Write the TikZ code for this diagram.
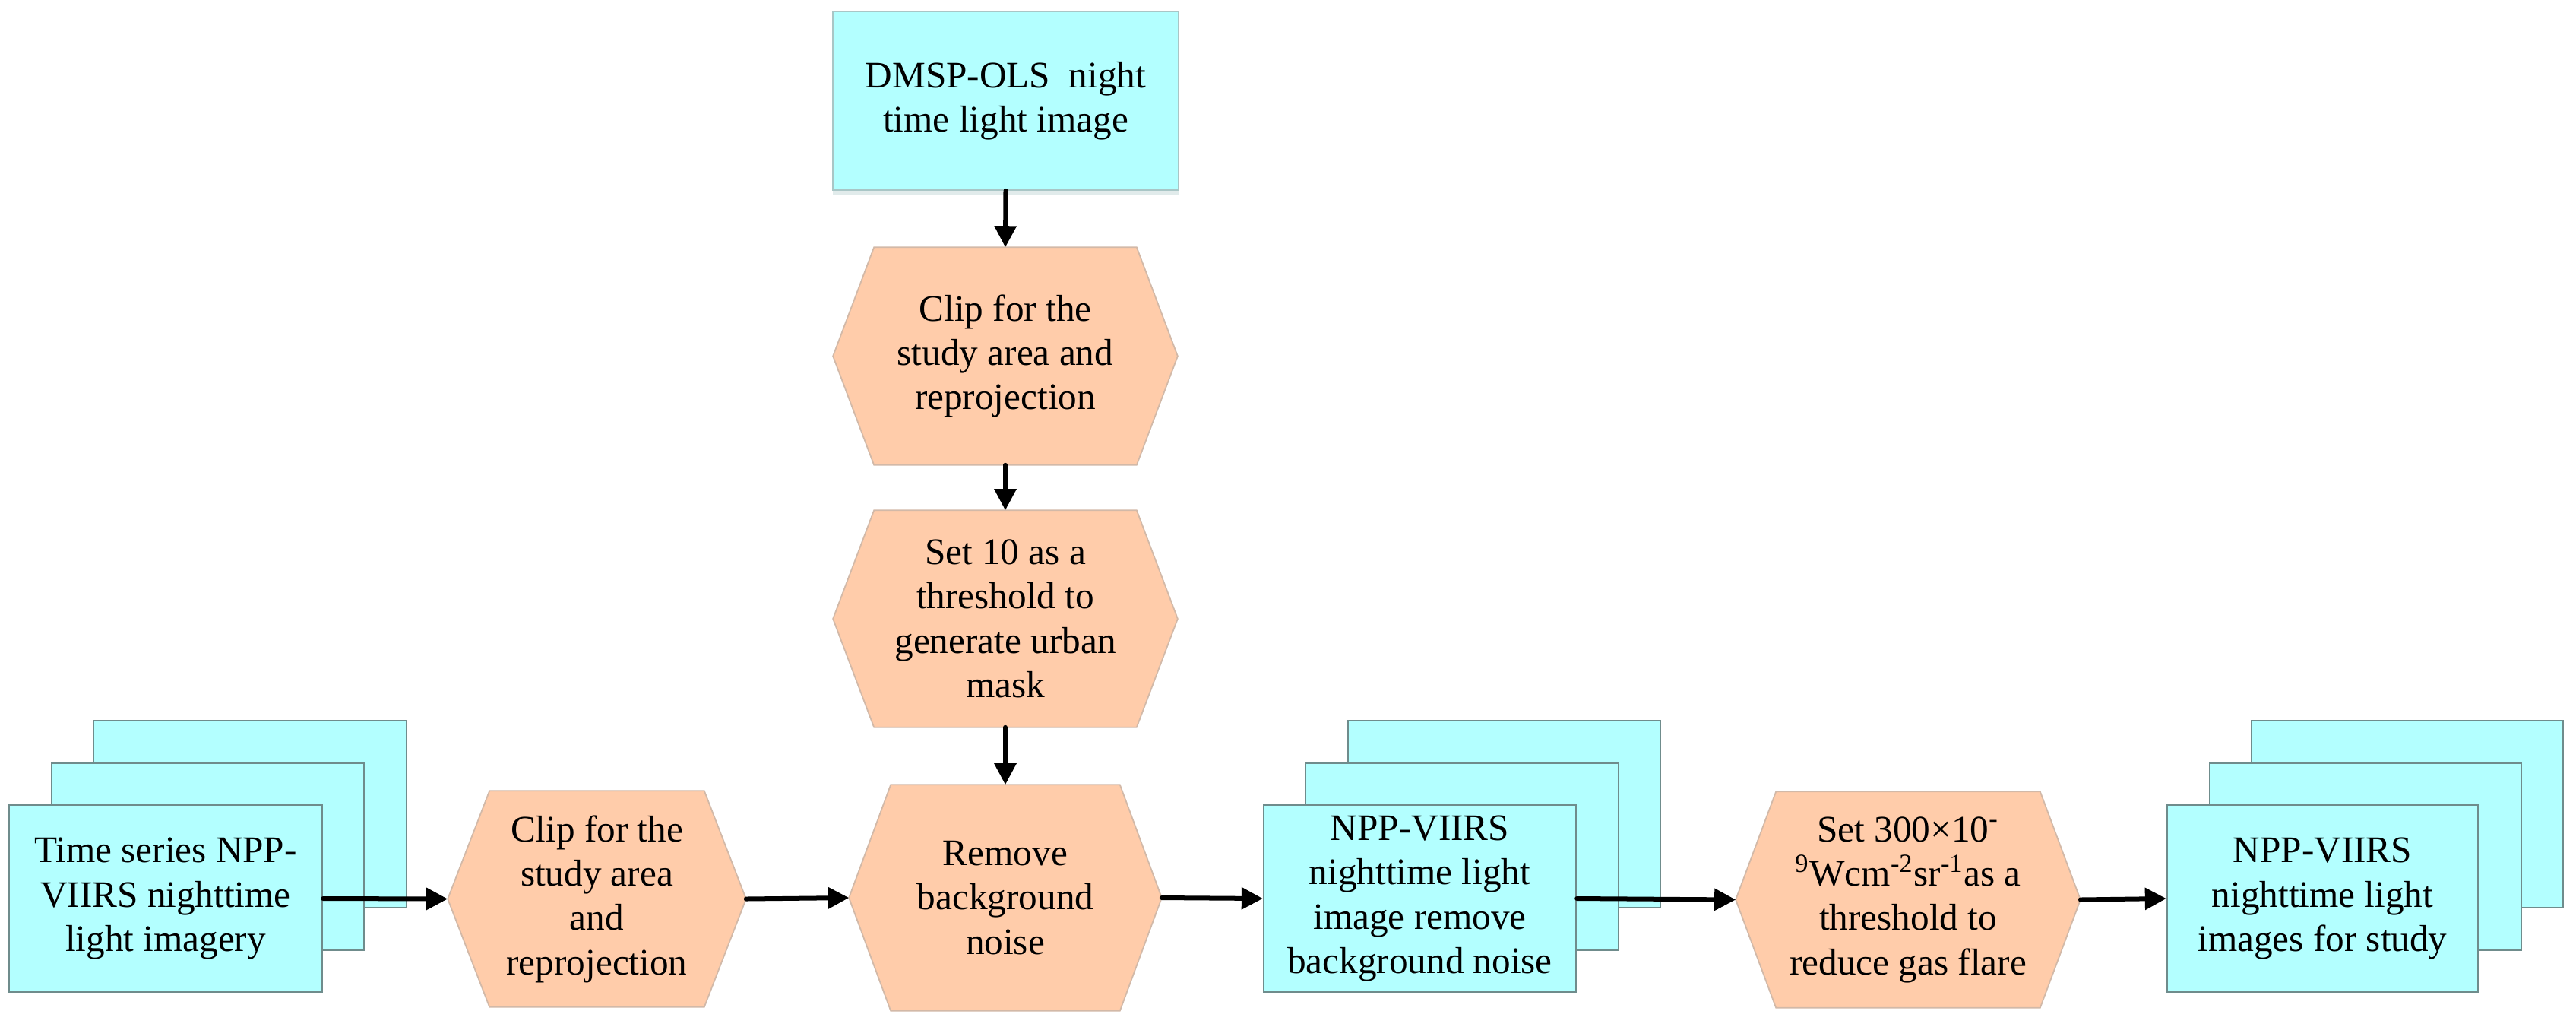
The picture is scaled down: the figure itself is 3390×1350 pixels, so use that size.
\documentclass[tikz,border=0pt]{standalone}
\usepackage{fontspec}
\setmainfont{Liberation Serif}
\usetikzlibrary{arrows.meta,backgrounds,shadows}
\definecolor{boxcyan}{HTML}{B3FFFF}
\definecolor{boxedge}{HTML}{6F8C8C}
\definecolor{topedge}{HTML}{A9C6C6}
\definecolor{hexfill}{HTML}{FFCCAA}
\definecolor{hexedge}{HTML}{D2B9A8}
\newcommand{\hexshape}[2]{%
  \begin{pgfonlayer}{background}
  \filldraw[fill=hexfill,draw=hexedge,line width=0.5pt]
    (#1.west) -- ([xshift=#2]#1.north west) -- ([xshift=-#2]#1.north east)
    -- (#1.east) -- ([xshift=-#2]#1.south east) -- ([xshift=#2]#1.south west) -- cycle;
  \end{pgfonlayer}}
\begin{document}
\begin{tikzpicture}[x=0.01cm,y=-0.01cm,
  every node/.style={font=\fontsize{14}{16.6}\selectfont},
  txt/.style={inner sep=0pt,align=center},
  stackbox/.style={draw=boxedge,fill=boxcyan,line width=0.6pt,inner sep=0pt,align=center,
    minimum width=4.11cm,minimum height=2.46cm},
  hexnode/.style={inner sep=0pt,align=center},
  arr/.style={line width=0.06cm,line cap=round,-{Triangle[length=0.28cm,width=0.28cm]}}]
\useasboundingbox (0,0) rectangle (3390,1350);

% top box
\node[draw=topedge,fill=boxcyan,line width=0.5pt,inner sep=0pt,align=center,
  minimum width=4.55cm,minimum height=2.35cm,
  drop shadow={shadow xshift=0pt,shadow yshift=-0.06cm,fill=topedge,opacity=0.35}]
  (dmsp) at (1323.5,132.5) {DMSP-OLS~ night\\time light image};

% vertical hexagons
\node[hexnode,minimum width=4.52cm,minimum height=2.85cm] (h1) at (1323,468.5)
  {Clip for the\\study area and\\reprojection};
\hexshape{h1}{0.54cm}
\node[hexnode,minimum width=4.52cm,minimum height=2.84cm] (h2) at (1323,814)
  {Set 10 as a\\threshold to\\generate urban\\mask};
\hexshape{h2}{0.54cm}
\node[hexnode,minimum width=4.10cm,minimum height=2.96cm] (h3) at (1323,1181)
  {Remove\\background\\noise};
\hexshape{h3}{0.55cm}

% left stack
\node[stackbox] (k1) at (329,1071) {};
\node[stackbox] (m1) at (273.5,1126.5) {};
\node[stackbox,minimum width=4.12cm] (f1) at (218,1182)
  {Time series NPP-\\VIIRS nighttime\\light imagery};

% bottom clip hexagon
\node[hexnode,minimum width=3.91cm,minimum height=2.83cm] (b1) at (785.5,1182.5)
  {Clip for the\\study area\\and\\reprojection};
\hexshape{b1}{0.55cm}

% middle stack
\node[stackbox] (k2) at (1979.5,1071) {};
\node[stackbox] (m2) at (1924,1126.5) {};
\node[stackbox] (f2) at (1868.5,1182)
  {NPP-VIIRS\\nighttime light\\image remove\\background noise};

% gas flare hexagon
\node[hexnode,minimum width=4.52cm,minimum height=2.83cm] (s3) at (2511,1183.5)
  {Set 300×10\textsuperscript{-}\\\textsuperscript{9}Wcm\textsuperscript{-2}sr\textsuperscript{-1}as a\\threshold to\\reduce gas flare};
\hexshape{s3}{0.53cm}

% right stack
\node[stackbox,minimum width=4.10cm] (k3) at (3168,1071) {};
\node[stackbox,minimum width=4.10cm] (m3) at (3113,1126.5) {};
\node[stackbox,minimum width=4.09cm] (f3) at (3056.5,1182)
  {NPP-VIIRS\\nighttime light\\images for study};

% connectors
\draw[arr] (dmsp.south) -- (h1.north);
\draw[arr] (h1.south) -- (h2.north);
\draw[arr] (h2.south) -- (h3.north);
\draw[arr] (f1.east) -- (b1.west);
\draw[arr] (b1.east) -- (h3.west);
\draw[arr] (h3.east) -- (f2.west);
\draw[arr] (f2.east) -- (s3.west);
\draw[arr] (s3.east) -- (f3.west);
\end{tikzpicture}
\end{document}
